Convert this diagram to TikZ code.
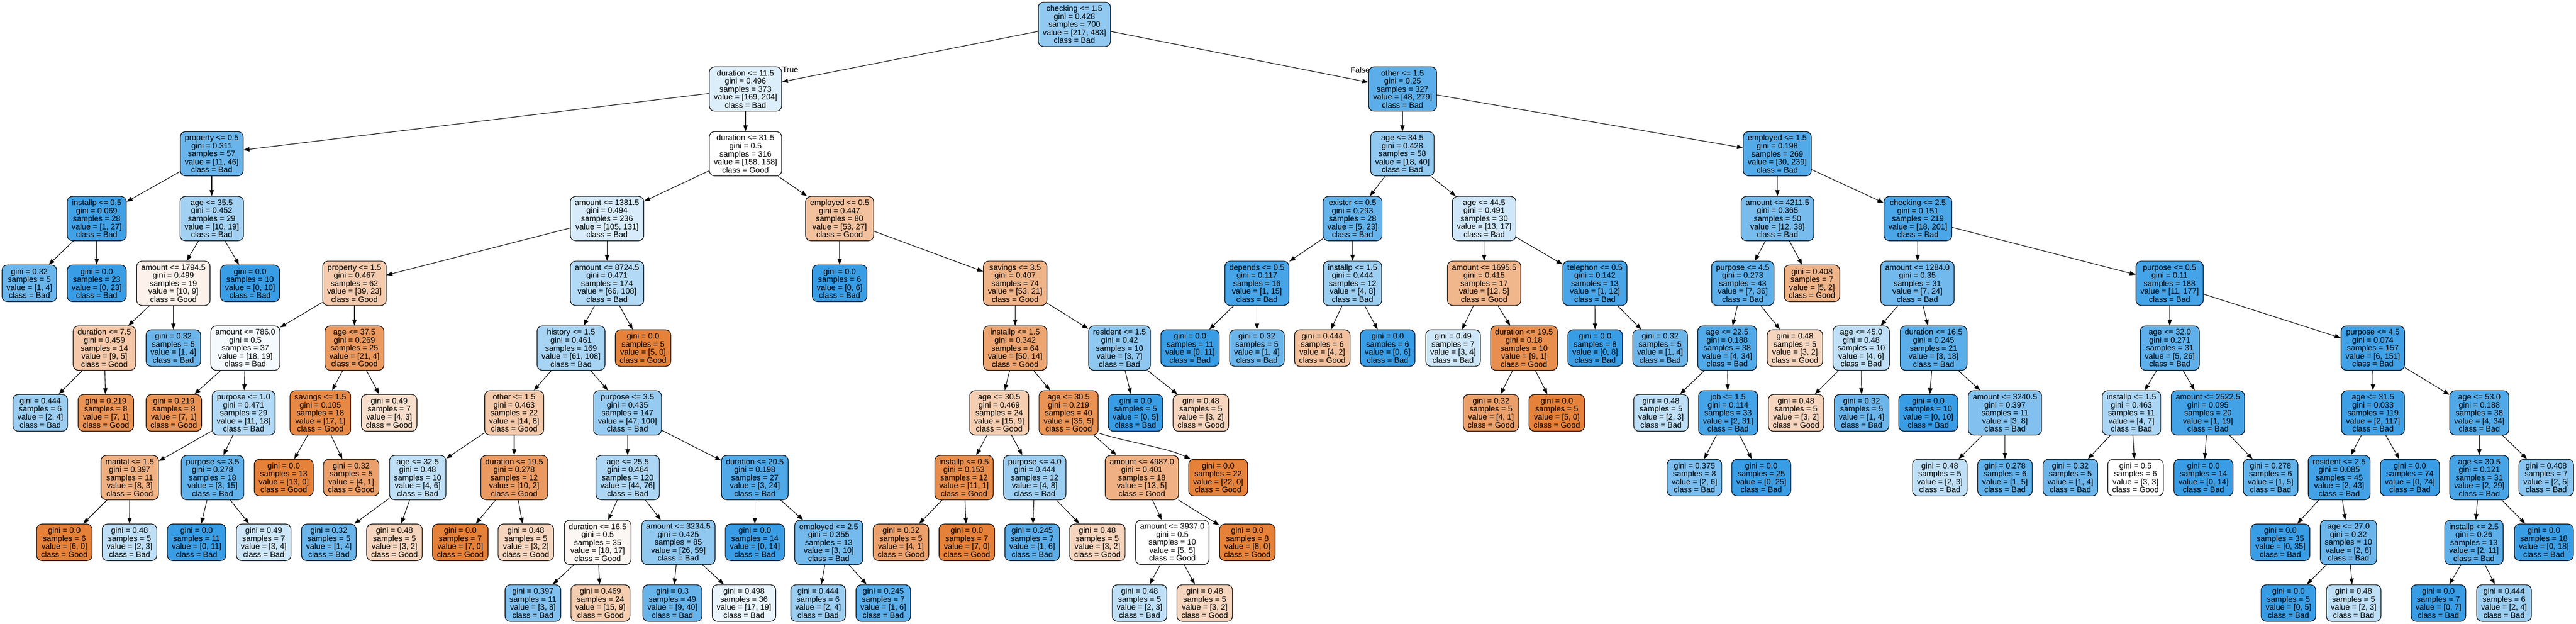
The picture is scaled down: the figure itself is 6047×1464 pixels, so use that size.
\documentclass[tikz,border=0pt]{standalone}
\usepackage{fontspec}
\setmainfont{Liberation Sans}
\usetikzlibrary{arrows.meta}
\definecolor{cG}{HTML}{E58139}
\definecolor{cB}{HTML}{399DE5}
\tikzset{
  nbox/.style={draw=black, line width=0.4pt, rounded corners=3.5pt, align=center,
    inner xsep=0.105cm, inner ysep=0pt, font=\fontsize{5.3pt}{5.34pt}\selectfont},
  lbl/.style={inner sep=0pt, font=\fontsize{5.3pt}{5.34pt}\selectfont},
  arr/.style={-{Triangle[length=4pt,width=2.9pt]}, line width=0.38pt},
  cls/.code 2 args={%
    \ifnum#1<#2\relax
      \pgfmathtruncatemacro\mypct{round(100*((#2-#1)/#2))}%
      \edef\mytmp{\noexpand\tikzset{fill=cB!\mypct!white}}%
    \else
      \pgfmathtruncatemacro\mypct{round(100*((#1-#2)/#1))}%
      \edef\mytmp{\noexpand\tikzset{fill=cG!\mypct!white}}%
    \fi
    \mytmp}
}
\newcommand\TreeIn[7]{\node[nbox,minimum height=1.04cm,cls={#6}{#7}] (#1) at (#2,{57+152*#3})
  {#4\\gini = #5\\samples = \the\numexpr#6+#7\relax\\value = [#6, #7]\\class = \ifnum#6<#7 Bad\else Good\fi};}
\newcommand\TreeLf[6]{\node[nbox,minimum height=0.86cm,cls={#5}{#6}] (#1) at (#2,{min(57+152*#3,1415.5)})
  {gini = #4\\samples = \the\numexpr#5+#6\relax\\value = [#5, #6]\\class = \ifnum#5<#6 Bad\else Good\fi};}
\begin{document}
\begin{tikzpicture}[x=0.01cm,y=-0.01cm]
\useasboundingbox (0,0) rectangle (6047,1464);
% internal nodes
\TreeIn{n0}{2522}{0}{checking <= 1.5}{0.428}{217}{483}
\TreeIn{n1}{1750}{1}{duration <= 11.5}{0.496}{169}{204}
\TreeIn{n2}{3292.5}{1}{other <= 1.5}{0.25}{48}{279}
\TreeIn{n3}{497}{2}{property <= 0.5}{0.311}{11}{46}
\TreeIn{n4}{1750}{2}{duration <= 31.5}{0.5}{158}{158}
\TreeIn{n5}{3292}{2}{age <= 34.5}{0.428}{18}{40}
\TreeIn{n6}{4172}{2}{employed <= 1.5}{0.198}{30}{239}
\TreeIn{n7}{227}{3}{installp <= 0.5}{0.069}{1}{27}
\TreeIn{n8}{497}{3}{age <= 35.5}{0.452}{10}{19}
\TreeIn{n9}{1425}{3}{amount <= 1381.5}{0.494}{105}{131}
\TreeIn{n10}{1971}{3}{employed <= 0.5}{0.447}{53}{27}
\TreeIn{n11}{3175}{3}{existcr <= 0.5}{0.293}{5}{23}
\TreeIn{n12}{3484}{3}{age <= 44.5}{0.491}{13}{17}
\TreeIn{n13}{4172.5}{3}{amount <= 4211.5}{0.365}{12}{38}
\TreeIn{n14}{4502}{3}{checking <= 2.5}{0.151}{18}{201}
\TreeIn{n15}{407}{4}{amount <= 1794.5}{0.499}{10}{9}
\TreeIn{n16}{832}{4}{property <= 1.5}{0.467}{39}{23}
\TreeIn{n17}{1425}{4}{amount <= 8724.5}{0.471}{66}{108}
\TreeIn{n18}{2383}{4}{savings <= 3.5}{0.407}{53}{21}
\TreeIn{n19}{2950.5}{4}{depends <= 0.5}{0.117}{1}{15}
\TreeIn{n20}{3175}{4}{installp <= 1.5}{0.444}{4}{8}
\TreeIn{n21}{3484}{4}{amount <= 1695.5}{0.415}{12}{5}
\TreeIn{n22}{3744}{4}{telephon <= 0.5}{0.142}{1}{12}
\TreeIn{n23}{4091}{4}{purpose <= 4.5}{0.273}{7}{36}
\TreeIn{n24}{4501}{4}{amount <= 1284.0}{0.35}{7}{24}
\TreeIn{n25}{5093}{4}{purpose <= 0.5}{0.11}{11}{177}
\TreeIn{n26}{245}{5}{duration <= 7.5}{0.459}{9}{5}
\TreeIn{n27}{576}{5}{amount <= 786.0}{0.5}{18}{19}
\TreeIn{n28}{832}{5}{age <= 37.5}{0.269}{21}{4}
\TreeIn{n29}{1340.5}{5}{history <= 1.5}{0.461}{61}{108}
\TreeIn{n30}{2383}{5}{installp <= 1.5}{0.342}{50}{14}
\TreeIn{n31}{2628}{5}{resident <= 1.5}{0.42}{3}{7}
\TreeIn{n32}{3577.5}{5}{duration <= 19.5}{0.18}{9}{1}
\TreeIn{n33}{4054.5}{5}{age <= 22.5}{0.188}{4}{34}
\TreeIn{n34}{4369}{5}{age <= 45.0}{0.48}{4}{6}
\TreeIn{n35}{4539}{5}{duration <= 16.5}{0.245}{3}{18}
\TreeIn{n36}{5093.5}{5}{age <= 32.0}{0.271}{5}{26}
\TreeIn{n37}{5570}{5}{purpose <= 4.5}{0.074}{6}{151}
\TreeIn{n38}{572}{6}{purpose <= 1.0}{0.471}{11}{18}
\TreeIn{n39}{752}{6}{savings <= 1.5}{0.105}{17}{1}
\TreeIn{n40}{1207}{6}{other <= 1.5}{0.463}{14}{8}
\TreeIn{n41}{1473}{6}{purpose <= 3.5}{0.435}{47}{100}
\TreeIn{n42}{2345.5}{6}{age <= 30.5}{0.469}{15}{9}
\TreeIn{n43}{2508.5}{6}{age <= 30.5}{0.219}{35}{5}
\TreeIn{n44}{4056.5}{6}{job <= 1.5}{0.114}{2}{31}
\TreeIn{n45}{4706.5}{6}{amount <= 3240.5}{0.397}{3}{8}
\TreeIn{n46}{5003.5}{6}{installp <= 1.5}{0.463}{4}{7}
\TreeIn{n47}{5183}{6}{amount <= 2522.5}{0.095}{1}{19}
\TreeIn{n48}{5570.5}{6}{age <= 31.5}{0.033}{2}{117}
\TreeIn{n49}{5820}{6}{age <= 53.0}{0.188}{4}{34}
\TreeIn{n50}{304.5}{7}{marital <= 1.5}{0.397}{8}{3}
\TreeIn{n51}{499}{7}{purpose <= 3.5}{0.278}{3}{15}
\TreeIn{n52}{980.5}{7}{age <= 32.5}{0.48}{4}{6}
\TreeIn{n53}{1207}{7}{duration <= 19.5}{0.278}{10}{2}
\TreeIn{n54}{1473.5}{7}{age <= 25.5}{0.464}{44}{76}
\TreeIn{n55}{1772}{7}{duration <= 20.5}{0.198}{3}{24}
\TreeIn{n56}{2263}{7}{installp <= 0.5}{0.153}{11}{1}
\TreeIn{n57}{2429}{7}{purpose <= 4.0}{0.444}{4}{8}
\TreeIn{n58}{2680.5}{7}{amount <= 4987.0}{0.401}{13}{5}
\TreeIn{n59}{5491}{7}{resident <= 2.5}{0.085}{2}{43}
\TreeIn{n60}{5820}{7}{age <= 30.5}{0.121}{2}{29}
\TreeIn{n61}{1403}{8}{duration <= 16.5}{0.5}{18}{17}
\TreeIn{n62}{1592.5}{8}{amount <= 3234.5}{0.425}{26}{59}
\TreeIn{n63}{1945.5}{8}{employed <= 2.5}{0.355}{3}{10}
\TreeIn{n64}{2752}{8}{amount <= 3937.0}{0.5}{5}{5}
\TreeIn{n65}{5513}{8}{age <= 27.0}{0.32}{2}{8}
\TreeIn{n66}{5807.5}{8}{installp <= 2.5}{0.26}{2}{11}
% leaves
\TreeLf{f1}{69}{4}{0.32}{1}{4}
\TreeLf{f2}{227}{4}{0.0}{0}{23}
\TreeLf{f3}{587}{4}{0.0}{0}{10}
\TreeLf{f4}{1971}{4}{0.0}{0}{6}
\TreeLf{f5}{4253.5}{4}{0.408}{5}{2}
\TreeLf{f6}{407}{5}{0.32}{1}{4}
\TreeLf{f7}{1509.5}{5}{0.0}{5}{0}
\TreeLf{f8}{2793.5}{5}{0.0}{0}{11}
\TreeLf{f9}{2950.5}{5}{0.32}{1}{4}
\TreeLf{f10}{3104}{5}{0.444}{4}{2}
\TreeLf{f11}{3257.5}{5}{0.0}{0}{6}
\TreeLf{f12}{3411}{5}{0.49}{3}{4}
\TreeLf{f13}{3744.5}{5}{0.0}{0}{8}
\TreeLf{f14}{3897}{5}{0.32}{1}{4}
\TreeLf{f15}{4213.5}{5}{0.48}{3}{2}
\TreeLf{f16}{94.5}{6}{0.444}{2}{4}
\TreeLf{f17}{248.5}{6}{0.219}{7}{1}
\TreeLf{f18}{408}{6}{0.219}{7}{1}
\TreeLf{f19}{913.5}{6}{0.49}{4}{3}
\TreeLf{f20}{2665.5}{6}{0.0}{0}{5}
\TreeLf{f21}{2819}{6}{0.48}{3}{2}
\TreeLf{f22}{3500}{6}{0.32}{4}{1}
\TreeLf{f23}{3654.5}{6}{0.0}{5}{0}
\TreeLf{f24}{3899}{6}{0.48}{2}{3}
\TreeLf{f25}{4216}{6}{0.48}{3}{2}
\TreeLf{f26}{4370}{6}{0.32}{1}{4}
\TreeLf{f27}{4526.5}{6}{0.0}{0}{10}
\TreeLf{f28}{666}{7}{0.0}{13}{0}
\TreeLf{f29}{824.5}{7}{0.32}{4}{1}
\TreeLf{f30}{2859.5}{7}{0.0}{22}{0}
\TreeLf{f31}{3977.5}{7}{0.375}{2}{6}
\TreeLf{f32}{4134.5}{7}{0.0}{0}{25}
\TreeLf{f33}{4553.5}{7}{0.48}{2}{3}
\TreeLf{f34}{4706.5}{7}{0.278}{1}{5}
\TreeLf{f35}{4860}{7}{0.32}{1}{4}
\TreeLf{f36}{5013}{7}{0.5}{3}{3}
\TreeLf{f37}{5172.5}{7}{0.0}{0}{14}
\TreeLf{f38}{5330}{7}{0.278}{1}{5}
\TreeLf{f39}{5657}{7}{0.0}{0}{74}
\TreeLf{f40}{5977}{7}{0.408}{2}{5}
\TreeLf{f41}{151}{8}{0.0}{6}{0}
\TreeLf{f42}{304}{8}{0.48}{2}{3}
\TreeLf{f43}{461.5}{8}{0.0}{0}{11}
\TreeLf{f44}{619}{8}{0.49}{3}{4}
\TreeLf{f45}{772}{8}{0.32}{1}{4}
\TreeLf{f46}{926}{8}{0.48}{3}{2}
\TreeLf{f47}{1080.5}{8}{0.0}{7}{0}
\TreeLf{f48}{1234.5}{8}{0.48}{3}{2}
\TreeLf{f49}{1772}{8}{0.0}{0}{14}
\TreeLf{f50}{2115}{8}{0.32}{4}{1}
\TreeLf{f51}{2269.5}{8}{0.0}{7}{0}
\TreeLf{f52}{2423}{8}{0.245}{1}{6}
\TreeLf{f53}{2576}{8}{0.48}{3}{2}
\TreeLf{f54}{2928}{8}{0.0}{8}{0}
\TreeLf{f55}{5353}{8}{0.0}{0}{35}
\TreeLf{f56}{5971.5}{8}{0.0}{0}{18}
\TreeLf{f57}{1251}{9}{0.397}{3}{8}
\TreeLf{f58}{1409.5}{9}{0.469}{15}{9}
\TreeLf{f59}{1578.5}{9}{0.3}{9}{40}
\TreeLf{f60}{1746.5}{9}{0.498}{17}{19}
\TreeLf{f61}{1920.5}{9}{0.444}{2}{4}
\TreeLf{f62}{2073.5}{9}{0.245}{1}{6}
\TreeLf{f63}{2675}{9}{0.48}{2}{3}
\TreeLf{f64}{2828}{9}{0.48}{3}{2}
\TreeLf{f65}{5372}{9}{0.0}{0}{5}
\TreeLf{f66}{5525}{9}{0.48}{2}{3}
\TreeLf{f67}{5724}{9}{0.0}{0}{7}
\TreeLf{f68}{5878}{9}{0.444}{2}{4}
% edge labels
\node[lbl] (tlab) at (1855,164) {True};
\node[lbl] (flab) at (3193,165) {False};
% edges
\foreach \p/\c in {n0/n1,n0/n2,n1/n3,n1/n4,n2/n5,n2/n6,n3/n7,n3/n8,n4/n9,n4/n10,
  n5/n11,n5/n12,n6/n13,n6/n14,n7/f1,n7/f2,n8/n15,n8/f3,n9/n16,n9/n17,n10/f4,n10/n18,
  n11/n19,n11/n20,n12/n21,n12/n22,n13/n23,n13/f5,n14/n24,n14/n25,n15/n26,n15/f6,
  n16/n27,n16/n28,n17/n29,n17/f7,n18/n30,n18/n31,n19/f8,n19/f9,n20/f10,n20/f11,
  n21/f12,n21/n32,n22/f13,n22/f14,n23/n33,n23/f15,n24/n34,n24/n35,n25/n36,n25/n37,
  n26/f16,n26/f17,n27/f18,n27/n38,n28/n39,n28/f19,n29/n40,n29/n41,n30/n42,n30/n43,
  n31/f20,n31/f21,n32/f22,n32/f23,n33/f24,n33/n44,n34/f25,n34/f26,n35/f27,n35/n45,
  n36/n46,n36/n47,n37/n48,n37/n49,n38/n50,n38/n51,n39/f28,n39/f29,n40/n52,n40/n53,
  n41/n54,n41/n55,n42/n56,n42/n57,n43/n58,n44/f31,n44/f32,n45/f33,n45/f34,
  n46/f35,n46/f36,n47/f37,n47/f38,n48/n59,n48/f39,n49/n60,n49/f40,n50/f41,n50/f42,
  n51/f43,n51/f44,n52/f45,n52/f46,n53/f47,n53/f48,n54/n61,n54/n62,n55/f49,n55/n63,
  n56/f50,n56/f51,n57/f52,n57/f53,n58/n64,n58/f54,n59/f55,n59/n65,n60/n66,n60/f56,
  n61/f57,n61/f58,n62/f59,n62/f60,n63/f61,n63/f62,n64/f63,n64/f64,n65/f65,n65/f66,
  n66/f67,n66/f68}
  {\draw[arr] (\p) -- (\c);}
\draw[arr] (n43.-34) .. controls (2645,1038) and (2738,1050) .. (f30.146);
\end{tikzpicture}
\end{document}
